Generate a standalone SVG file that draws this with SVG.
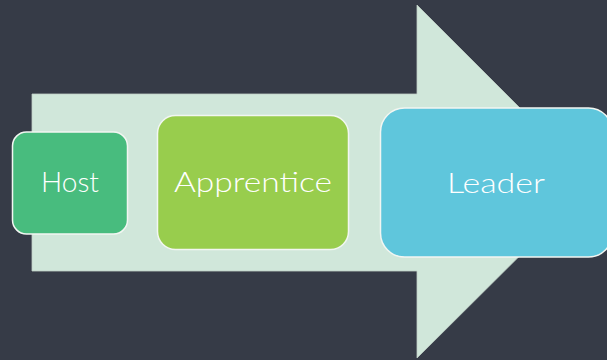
<svg xmlns="http://www.w3.org/2000/svg" width="607" height="360" viewBox="0 0 607 360">
<style>
.lbl{font-family:Lato,"Liberation Sans",Arial,sans-serif;font-weight:300;font-size:28px;fill:#ffffff;text-anchor:middle}
.box{stroke:#f2f6f2;stroke-width:1.5}
</style>
<rect width="607" height="360" fill="#363b47"/>
<g id="arrow">
<polygon points="32,94 417,94 417,5 594,182 417,358 417,271 32,271" fill="#d0e7da" stroke="#c0cfc6" stroke-width="0.8"/>
</g>
<g id="connectors"></g>
<g id="host">
<rect class="box" x="12.5" y="132" width="115" height="102" rx="14" fill="#48bc7e"/>
<text class="lbl" x="70" y="192" textLength="58" lengthAdjust="spacingAndGlyphs">Host</text>
</g>
<g id="apprentice">
<rect class="box" x="157.5" y="115.5" width="191" height="134" rx="18" fill="#98cd4d"/>
<text class="lbl" x="253" y="192" textLength="158" lengthAdjust="spacingAndGlyphs">Apprentice</text>
</g>
<g id="leader">
<rect class="box" x="380.5" y="108" width="232" height="149" rx="24" fill="#5fc6dc"/>
<text class="lbl" x="496" y="193" textLength="98" lengthAdjust="spacingAndGlyphs">Leader</text>
</g>
</svg>
